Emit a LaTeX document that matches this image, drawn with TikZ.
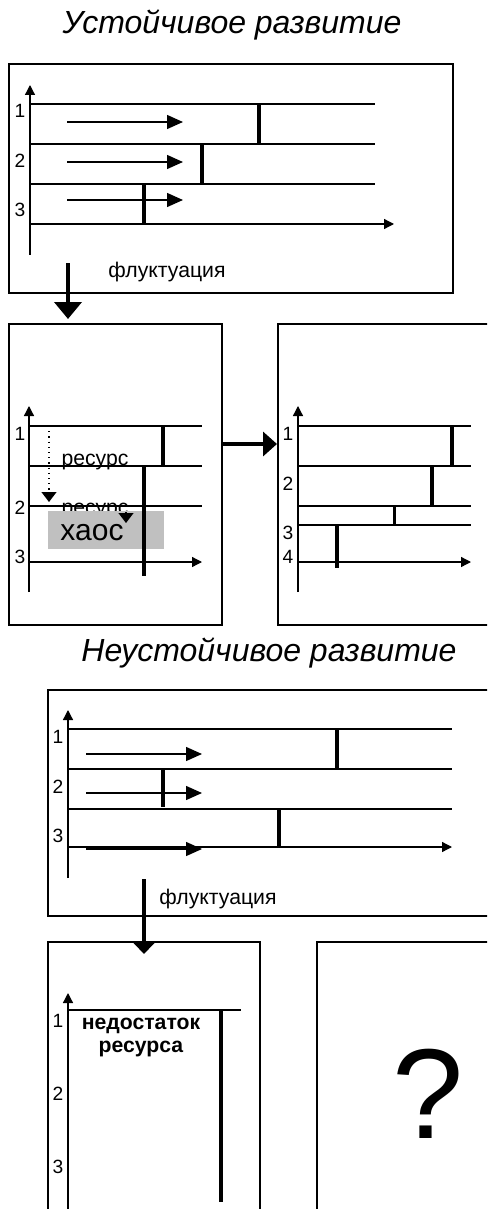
\documentclass[tikz,border=0pt]{standalone}
\usepackage{fontspec}
\setmainfont{Liberation Sans}
\usetikzlibrary{arrows.meta}
\definecolor{chaosgray}{HTML}{C0C0C0}

\begin{document}
\begin{tikzpicture}
    [
        x=0.5pt, y=-0.5pt,
        frame/.style={draw, line width=1pt, inner sep=0pt},
        level/.style={line width=1pt},
        axis/.style={line width=0.65pt, -{Triangle[length=5pt, width=5pt]}},
        growth/.style={line width=0.7pt, -{Triangle[length=8pt, width=7pt]}},
        fluct/.style={line width=2pt},
        jump/.style={line width=2pt, -{Triangle[length=8.5pt, width=13.5pt]}},
        num/.style={inner sep=0pt, anchor=base, font=\fontsize{9.6}{11}\selectfont},
        note/.style={inner sep=0pt, anchor=base, font=\fontsize{10.6}{12}\selectfont},
        heading/.style={inner sep=0pt, anchor=base, font=\fontsize{16}{19}\selectfont\itshape},
    ]
    \clip (0,0) rectangle (487,1209);

    % frames
    \node (box1)  at (231,178.5)  [frame, minimum width=222pt, minimum height=114.5pt] {};
    \node (box2a) at (115.5,474.5) [frame, minimum width=106.5pt, minimum height=150.5pt] {};
    \node (box2b) at (409,474.5)  [frame, minimum width=131pt, minimum height=150.5pt] {};
    \node (box3)  at (294,803)    [frame, minimum width=246pt, minimum height=113pt] {};
    \node (box4a) at (154,1101)   [frame, minimum width=106pt, minimum height=159pt] {};
    \node (box4b) at (428.5,1101) [frame, minimum width=111.5pt, minimum height=159pt] {};

    % headings
    \node (stable)   at (232,34)  [heading] {Устойчивое развитие};
    \node (unstable) at (269,661) [heading] {Неустойчивое развитие};

    % stable: three levels
    \draw [axis] (30,255) -- (30,85);
    \draw [axis] (30,224) -- (394,224);
    \draw [level] (30,104) -- (375,104);
    \draw [level] (30,144) -- (375,144);
    \draw [level] (30,184) -- (375,184);
    \node (s1) at (20,118) [num] {1};
    \node (s2) at (20,168) [num] {2};
    \node (s3) at (20,217) [num] {3};
    \draw [growth] (67,122) -- (183,122);
    \draw [growth] (67,162) -- (183,162);
    \draw [growth] (67,200) -- (183,200);
    \draw [fluct] (259,104) -- (259,144);
    \draw [fluct] (202,144) -- (202,184);
    \draw [fluct] (144,184) -- (144,224);
    \coordinate (fl1) at (68,263);
    \node (fltext1) at (167,278) [note] {флуктуация};
    \draw [jump, shorten >=2pt] (fl1) -- (box2a.north -| fl1);

    % stable: chaos
    \draw [axis] (29,592) -- (29,406);
    \draw [axis] (29,562) -- (202,562);
    \draw [level] (29,426) -- (202,426);
    \draw [level] (29,466) -- (202,466);
    \draw [level] (29,506) -- (202,506);
    \node (c1) at (20,440) [num] {1};
    \node (c2) at (20,514) [num] {2};
    \node (c3) at (20,563) [num] {3};
    \draw [dotted, line width=0.6pt, -{Triangle[length=5pt, width=7.5pt]}] (49,426) -- (49,502);
    \node (res1) at (95,465) [note] {ресурс};
    \node (res2) at (95,514) [note] {ресурс};
    \fill [chaosgray] (48,511) rectangle (164,549);
    \node (chaos) at (92,540) [inner sep=0pt, anchor=base, font=\fontsize{15}{18}\selectfont] {хаос};
    \draw [-{Triangle[length=5pt, width=7.5pt]}, line width=0.6pt] (126,512) -- (126,523);
    \draw [fluct] (163,426) -- (163,466);
    \draw [fluct] (144,466) -- (144,576);
    \coordinate (mid) at (250,444);
    \draw [jump, -{Triangle[length=7pt, width=12pt]}] (box2a.east |- mid) -- (box2b.west |- mid);

    % stable: new order, four levels
    \draw [axis] (298,592) -- (298,406);
    \draw [axis] (298,562) -- (471,562);
    \draw [level] (298,426) -- (471,426);
    \draw [level] (298,466) -- (471,466);
    \draw [level] (298,506) -- (471,506);
    \draw [level] (298,525) -- (471,525);
    \node (n1) at (288,440) [num] {1};
    \node (n2) at (288,490) [num] {2};
    \node (n3) at (288,539) [num] {3};
    \node (n4) at (288,563) [num] {4};
    \draw [fluct] (452,426) -- (452,466);
    \draw [fluct] (432,466) -- (432,506);
    \draw [line width=1.5pt] (394,506) -- (394,525);
    \draw [fluct] (337,525) -- (337,568);

    % unstable: three levels
    \draw [axis] (68,878) -- (68,710);
    \draw [axis] (68,847) -- (452,847);
    \draw [level] (68,729) -- (452,729);
    \draw [level] (68,769) -- (452,769);
    \draw [level] (68,809) -- (452,809);
    \node (u1) at (58,743) [num] {1};
    \node (u2) at (58,793) [num] {2};
    \node (u3) at (58,842) [num] {3};
    \draw [growth] (86,754) -- (202,754);
    \draw [growth] (86,793) -- (202,793);
    \draw [growth] (86,849) -- (202,849);
    \draw [fluct] (337,729) -- (337,769);
    \draw [fluct] (163,769) -- (163,807);
    \draw [fluct] (279,809) -- (279,847);
    \coordinate (fl2) at (144,879);
    \node (fltext2) at (218,904) [note] {флуктуация};
    \draw [jump, -{Triangle[length=6.5pt, width=12pt]}, shorten >=-6.5pt] (fl2) -- (box4a.north -| fl2);

    % unstable: shortage
    \draw [axis] (68,1230) -- (68,993);
    \draw [level] (68,1010) -- (241,1010);
    \node (d1) at (58,1027) [num] {1};
    \node (d2) at (58,1100) [num] {2};
    \node (d3) at (58,1173) [num] {3};
    \draw [fluct] (221,1010) -- (221,1202);
    \node (lack) at (141,1052) [inner sep=0pt, anchor=base, align=center,
        font=\fontsize{10.6}{11.5}\selectfont\bfseries] {недостаток\\ресурса};
    \node (what) at (428,1138) [inner sep=0pt, anchor=base, font=\fontsize{64}{70}\selectfont] {?};

\end{tikzpicture}
\end{document}
